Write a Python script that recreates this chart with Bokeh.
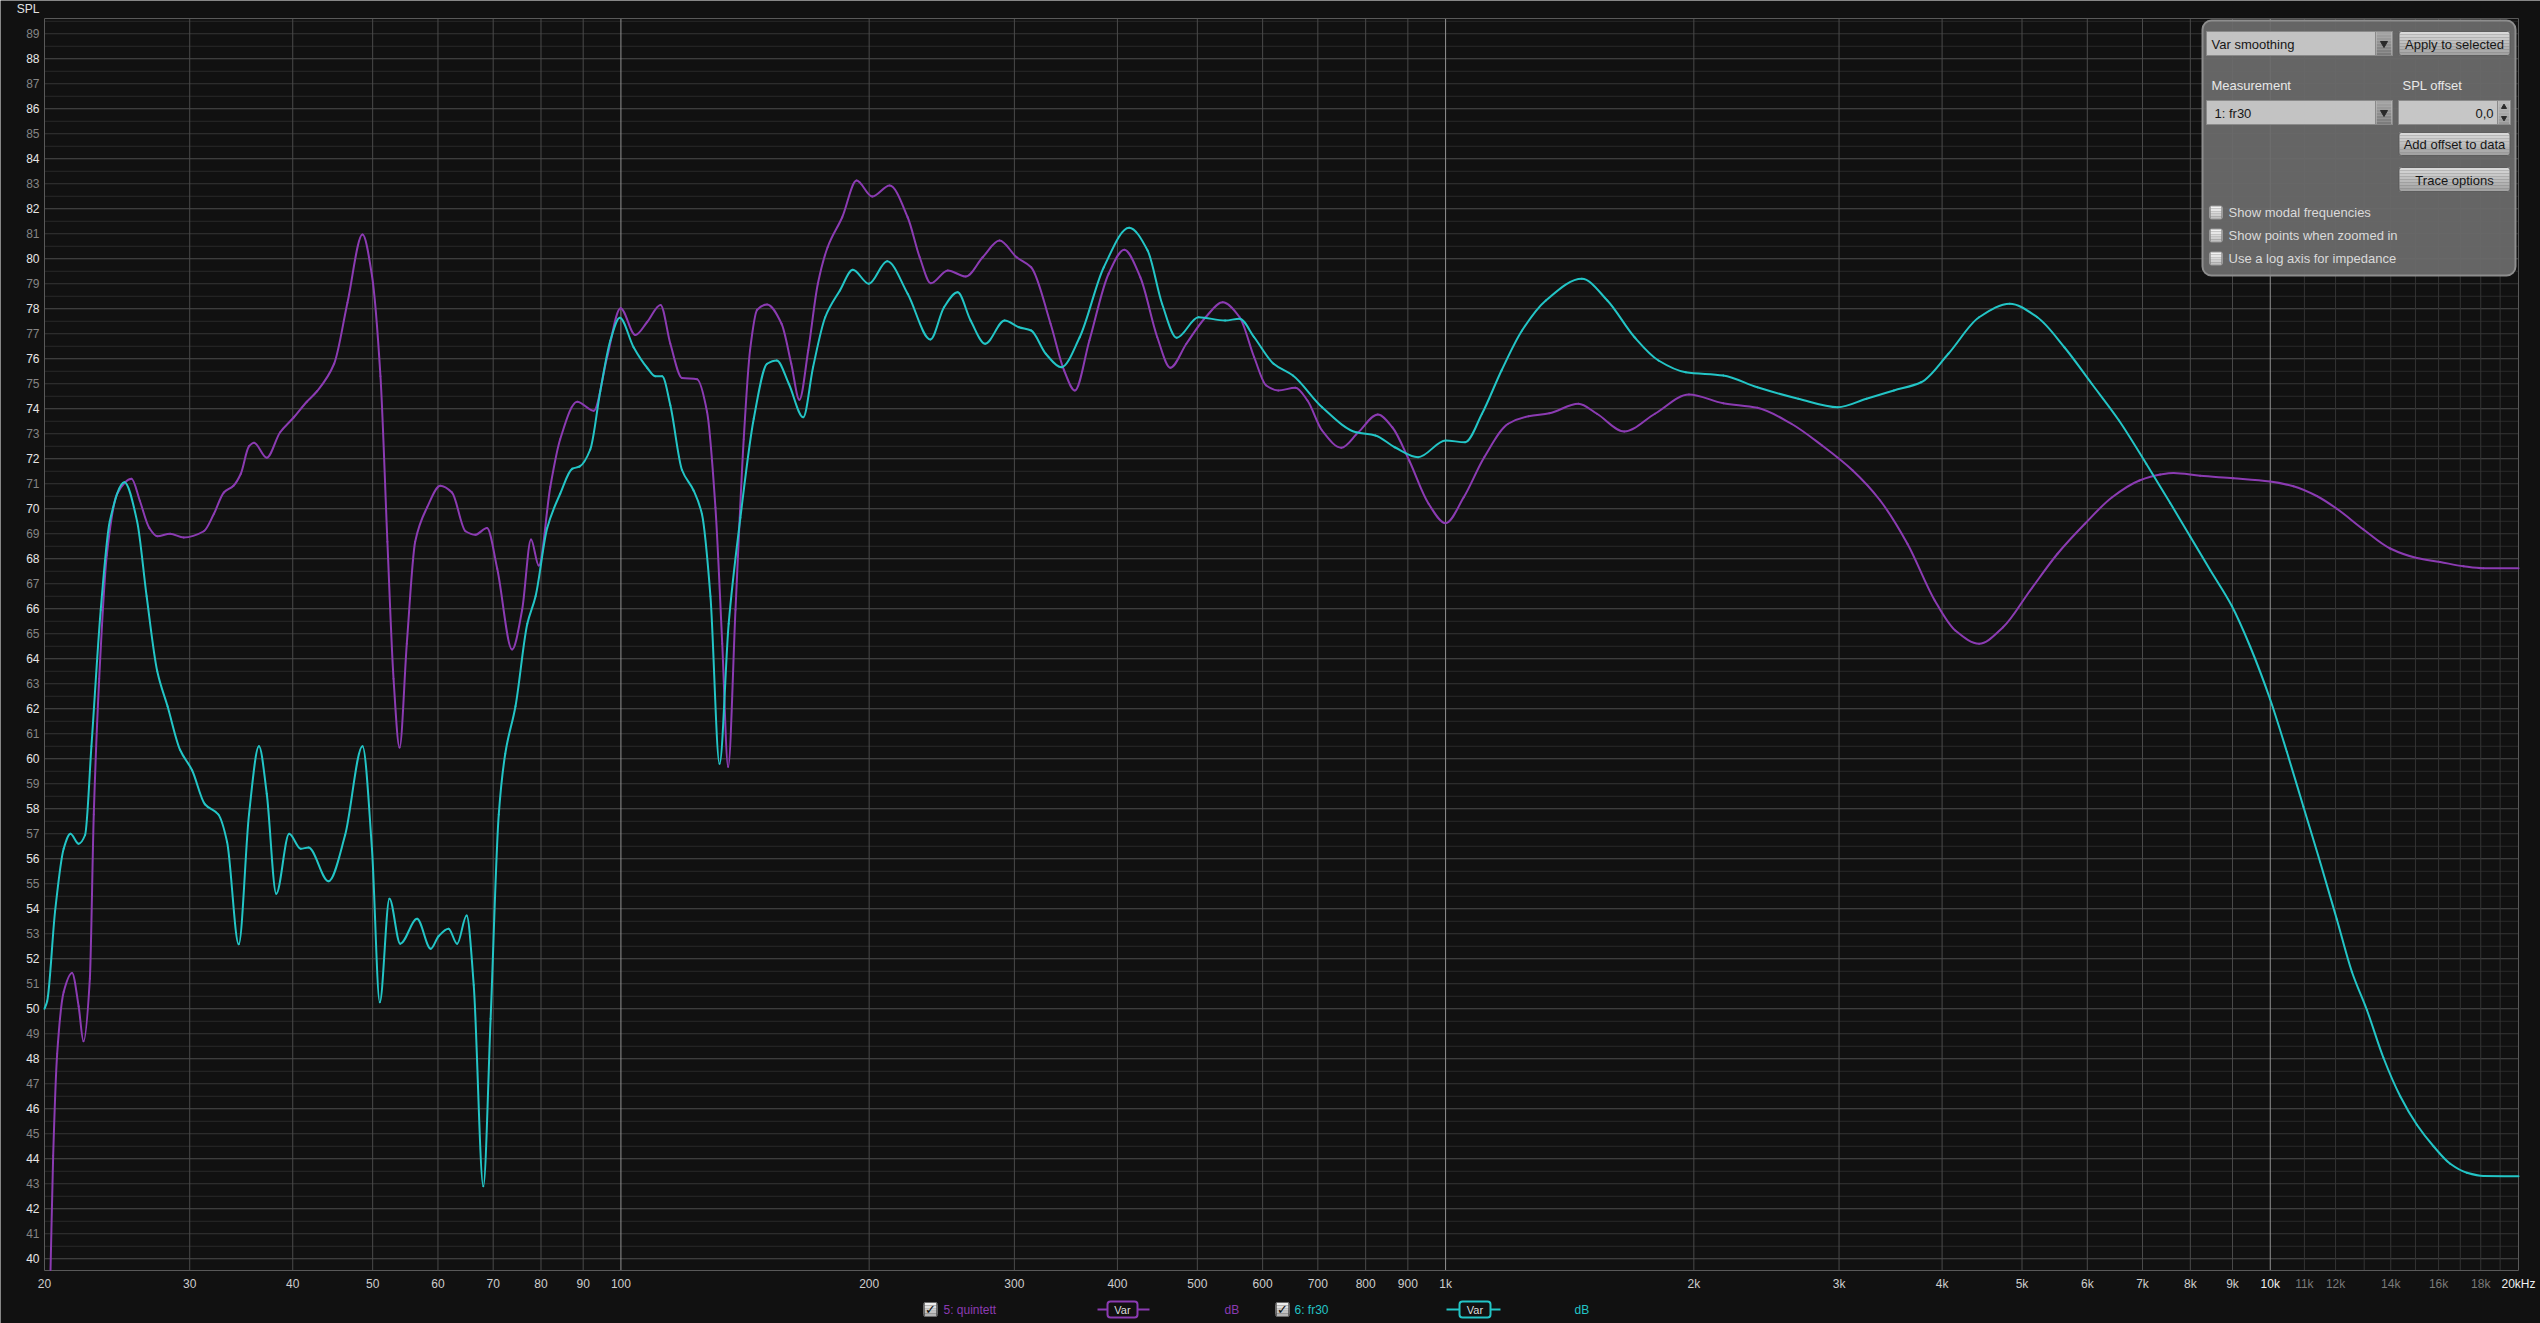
import math
from bokeh.plotting import figure
from bokeh.models import Range1d, LinearScale
from bokeh.core.properties import value
from bokeh.embed import file_html
from bokeh.resources import INLINE

# ---------------- data ----------------
fr30_freq = [20.0, 20.15, 20.6, 21.1, 21.5, 22.0, 22.4, 22.8, 23.4, 24.0,
             25.0, 25.9, 26.6, 27.4, 28.2, 29.2, 30.2, 31.3, 32.5, 33.3,
             34.4, 35.4, 36.4, 37.2, 38.2, 39.6, 40.9, 41.8, 44.2, 46.3,
             48.6, 49.9, 51.0, 52.4, 54.0, 56.6, 58.8, 60.1, 61.8, 63.3,
             65.0, 66.3, 68.1, 69.5, 71.1, 72.4, 74.5, 77.0, 78.8, 81.4,
             84.4, 87.3, 89.1, 91.8, 94.4, 97.1, 99.7, 103.6, 107.6, 110.1,
             112.2, 114.8, 118.6, 122.5, 125.4, 128.4, 131.7, 135.1, 139.6, 144.9,
             150.4, 154.5, 159.8, 166.4, 171.0, 176.9, 184.3, 191.1, 199.8, 210.3,
             222.7, 237.3, 246.5, 256.0, 265.5, 276.5, 291.9, 303.9, 314.4, 327.5,
             342.0, 360.0, 385.1, 413.3, 435.2, 453.1, 472.0, 501.6, 540.3, 562.7,
             586.0, 618.6, 653.0, 708.4, 778.6, 821.9, 867.6, 926.1, 1000, 1056,
             1107, 1169, 1238, 1323, 1463, 1571, 1695, 1812, 1955, 2171,
             2388, 2677, 2990, 3239, 3496, 3773, 4071, 4436, 4832, 5218,
             5628, 6075, 6555, 7074, 7563, 7997, 8456, 8983, 9454, 9996,
             10474, 10970, 11492, 12042, 12560, 13098, 13720, 14376, 15060, 15774,
             16528, 17316, 18138, 20000]
fr30_spl = [50.0, 50.3, 53.9, 56.4, 57.0, 56.6, 56.95, 60.5, 65.95, 69.5,
            71.06, 69.5, 66.5, 63.5, 62.1, 60.36, 59.54, 58.18, 57.77, 56.67,
            52.58, 57.77, 60.5, 58.6, 54.6, 57.0, 56.4, 56.45, 55.1, 56.95,
            60.5, 56.4, 50.26, 54.4, 52.6, 53.6, 52.4, 52.9, 53.2, 52.6,
            53.73, 50.95, 42.9, 49.6, 57.77, 60.2, 62.1, 65.4, 66.5, 69.23,
            70.6, 71.6, 71.69, 72.37, 74.7, 76.73, 77.64, 76.46, 75.64, 75.3,
            75.3, 74.14, 71.55, 70.73, 69.78, 66.5, 59.8, 65.4, 69.64, 73.6,
            75.8, 75.93, 75.0, 73.66, 75.66, 77.66, 78.73, 79.56, 79.0, 79.9,
            78.6, 76.77, 78.06, 78.66, 77.53, 76.6, 77.53, 77.26, 77.13, 76.2,
            75.66, 76.86, 79.66, 81.24, 80.33, 78.2, 76.84, 77.66, 77.53, 77.6,
            76.86, 75.8, 75.33, 74.06, 73.06, 72.93, 72.46, 72.06, 72.73, 72.66,
            73.8, 75.53, 77.13, 78.33, 79.2, 78.33, 76.86, 75.93, 75.46, 75.33,
            74.86, 74.4, 74.06, 74.4, 74.73, 75.06, 76.2, 77.66, 78.2, 77.66,
            76.46, 75.0, 73.53, 71.8, 70.23, 68.89, 67.55, 66.11, 64.49, 62.38,
            60.28, 58.08, 55.88, 53.58, 51.48, 49.95, 48.03, 46.5, 45.36, 44.5,
            43.8, 43.44, 43.31, 43.3]

quintett_freq = [20.34, 20.49, 20.72, 21.1, 21.6, 22.0, 22.3, 22.7, 22.95, 23.3,
                 23.8, 24.5, 25.5, 26.1, 26.8, 27.4, 28.4, 29.5, 31.2, 32.1,
                 33.0, 33.9, 34.6, 35.4, 35.9, 37.2, 38.6, 40.1, 41.6, 42.8,
                 44.9, 46.6, 48.6, 49.9, 51.1, 52.1, 53.0, 53.9, 55.0, 56.3,
                 58.2, 60.4, 62.4, 64.8, 66.6, 68.8, 70.8, 73.8, 75.9, 77.8,
                 79.5, 82.1, 84.4, 88.5, 92.7, 96.2, 99.9, 104.1, 107.6, 111.7,
                 114.8, 118.6, 123.7, 127.2, 130.2, 132.7, 134.9, 137.7, 140.9, 143.4,
                 146.3, 150.4, 156.6, 160.9, 164.6, 168.7, 173.3, 178.1, 185.5, 193.1,
                 201.7, 211.8, 222.7, 230.3, 237.6, 249.1, 261.9, 274.6, 287.8, 301.9,
                 314.4, 331.9, 344.7, 355.2, 369.9, 390.3, 407.7, 426.4, 447.1, 463.7,
                 484.9, 511.7, 536.7, 562.7, 586.0, 606.1, 626.8, 657.4, 680.0, 708.4,
                 747.4, 783.7, 827.5, 861.8, 903.4, 953.7, 1000, 1052, 1114, 1191,
                 1261, 1336, 1449, 1526, 1647, 1794, 1973, 2171, 2388, 2626,
                 2861, 3117, 3365, 3631, 3919, 4150, 4436, 4742, 5115, 5521,
                 5960, 6431, 6940, 7355, 7632, 8223, 9022, 9996, 10668, 11386,
                 12042, 12972, 13976, 15060, 16070, 17152, 18138, 20000]
quintett_spl = [39.55, 44.12, 48.2, 50.67, 51.43, 50.1, 48.7, 51.2, 57.77, 63.2,
                68.14, 70.6, 71.2, 70.32, 69.23, 68.9, 69.0, 68.85, 69.1, 69.8,
                70.65, 70.92, 71.4, 72.5, 72.64, 72.04, 73.05, 73.65, 74.28, 74.7,
                75.8, 78.24, 80.97, 79.33, 75.3, 68.68, 63.2, 60.45, 64.6, 68.68,
                70.05, 70.92, 70.65, 69.1, 68.96, 69.23, 67.6, 64.37, 65.96, 68.77,
                67.73, 70.87, 72.78, 74.28, 73.92, 76.05, 78.02, 76.95, 77.47, 78.15,
                76.6, 75.23, 75.18, 73.87, 70.05, 64.6, 59.68, 65.96, 72.78, 76.33,
                77.96, 78.17, 77.4, 75.8, 74.36, 76.33, 79.0, 80.46, 81.66, 83.13,
                82.49, 82.93, 81.66, 80.06, 79.02, 79.53, 79.29, 80.06, 80.73, 80.06,
                79.66, 77.4, 75.53, 74.73, 76.73, 79.4, 80.36, 79.26, 76.86, 75.64,
                76.6, 77.66, 78.26, 77.66, 76.06, 74.93, 74.73, 74.84, 74.33, 73.13,
                72.44, 73.06, 73.77, 73.26, 71.93, 70.2, 69.42, 70.46, 72.06, 73.4,
                73.7, 73.82, 74.2, 73.8, 73.09, 73.8, 74.57, 74.22, 74.04, 73.4,
                72.53, 71.53, 70.33, 68.6, 66.33, 65.13, 64.6, 65.26, 66.73, 68.2,
                69.4, 70.46, 71.13, 71.37, 71.43, 71.32, 71.22, 71.09, 70.9, 70.51,
                70.0, 69.17, 68.41, 68.03, 67.87, 67.7, 67.62, 67.62]

x_tick_values = [20, 30, 40, 50, 60, 70, 80, 90, 100, 200, 300, 400, 500, 600, 700, 800, 900,
                 1000, 2000, 3000, 4000, 5000, 6000, 7000, 8000, 9000, 10000,
                 11000, 12000, 14000, 16000, 18000, 20000]
x_tick_labels = ["20", "30", "40", "50", "60", "70", "80", "90", "100", "200", "300", "400",
                 "500", "600", "700", "800", "900", "1k", "2k", "3k", "4k", "5k", "6k", "7k",
                 "8k", "9k", "10k", "11k", "12k", "14k", "16k", "18k", "20kHz"]
x_minor_grid = [13000, 15000, 17000, 19000]
y_tick_values = list(range(40, 90))
y_tick_labels = [str(v) for v in y_tick_values]

assert len(fr30_freq) == len(fr30_spl)
assert len(quintett_freq) == len(quintett_spl)

# ---------------- geometry / style ----------------
F_MIN, F_MAX = 20, 20000
DB_MIN, DB_MAX = 39.53, 89.61          # visible SPL window of the graph
PURPLE = "#8b3bb2"
CYAN = "#23c5c6"
FONT = "Liberation Sans"
BG = "#111111"

W, H = 2540, 1323
OX, OY = 0, 0                            # figure origin on the page
PLOT_L, PLOT_R, PLOT_T, PLOT_B = 44, 2518, 18, 1270   # graph box in page pixels

decade_px = (PLOT_R - PLOT_L) / 3.0
x_start = F_MIN / 10 ** ((PLOT_L - OX) / decade_px)
x_end = F_MAX * 10 ** ((OX + W - PLOT_R) / decade_px)
db_per_px = (DB_MAX - DB_MIN) / (PLOT_B - PLOT_T)
y_end = DB_MAX + (PLOT_T - OY) * db_per_px
y_start = DB_MIN - (OY + H - PLOT_B) * db_per_px

p = figure(width=W, height=H, x_axis_type="log",
           x_range=Range1d(x_start, x_end), y_range=Range1d(y_start, y_end),
           x_axis_location=None, y_axis_location=None,
           toolbar_location=None, output_backend="svg",
           background_fill_color=BG, border_fill_color=BG,
           outline_line_color=None, min_border=0)
p.min_border_left = p.min_border_right = p.min_border_top = p.min_border_bottom = 0
p.grid.visible = False

# page-pixel coordinate system for the UI chrome
p.extra_x_ranges = {"px": Range1d(OX, OX + W)}
p.extra_y_ranges = {"px": Range1d(OY + H, OY)}
p.extra_x_scales = {"px": LinearScale()}
p.extra_y_scales = {"px": LinearScale()}
PX = dict(x_range_name="px", y_range_name="px")

# ---------------- grid ----------------
h_vals = [v / 2 for v in range(int(40 * 2), int(89.5 * 2) + 1)]
h_cols = []
for v in h_vals:
    if v != int(v):
        h_cols.append("#2a2a2a")
    elif int(v) % 2 == 0:
        h_cols.append("#4c4c4c")
    else:
        h_cols.append("#363636")
p.segment(x0=[F_MIN] * len(h_vals), x1=[F_MAX] * len(h_vals), y0=h_vals, y1=h_vals,
          line_color=h_cols, line_width=1)

v_vals = x_tick_values[1:-1] + x_minor_grid
v_cols = []
for v in v_vals:
    if v in (100, 1000, 10000):
        v_cols.append("#929292")
    elif v > 10000:
        v_cols.append("#343434")
    else:
        v_cols.append("#4a4a4a")
p.segment(x0=v_vals, x1=v_vals, y0=[DB_MIN] * len(v_vals), y1=[DB_MAX] * len(v_vals),
          line_color=v_cols, line_width=1)

p.quad(left=[F_MIN], right=[F_MAX], bottom=[DB_MIN], top=[DB_MAX],
       fill_color=None, line_color="#595959", line_width=1)


# ---------------- curves (smooth, monotone cubic through the read points) ----------------
def smooth_curve(freqs, spls, color):
    u = [math.log10(f) for f in freqs]
    n = len(u)
    h = [u[k + 1] - u[k] for k in range(n - 1)]
    d = [(spls[k + 1] - spls[k]) / h[k] for k in range(n - 1)]
    m = [0.0] * n
    m[0], m[-1] = d[0], d[-1]
    for k in range(1, n - 1):
        if d[k - 1] * d[k] <= 0:
            m[k] = 0.0
        else:
            w1 = 2 * h[k] + h[k - 1]
            w2 = h[k] + 2 * h[k - 1]
            m[k] = (w1 + w2) / (w1 / d[k - 1] + w2 / d[k])
    x0 = freqs[:-1]
    x1 = freqs[1:]
    y0 = spls[:-1]
    y1 = spls[1:]
    cx0 = [10 ** (u[k] + h[k] / 3) for k in range(n - 1)]
    cx1 = [10 ** (u[k + 1] - h[k] / 3) for k in range(n - 1)]
    cy0 = [spls[k] + m[k] * h[k] / 3 for k in range(n - 1)]
    cy1 = [spls[k + 1] - m[k + 1] * h[k] / 3 for k in range(n - 1)]
    p.bezier(x0=x0, y0=y0, x1=x1, y1=y1, cx0=cx0, cy0=cy0, cx1=cx1, cy1=cy1,
             line_color=color, line_width=2, line_cap="round", line_join="round")


smooth_curve(quintett_freq, quintett_spl, PURPLE)
smooth_curve(fr30_freq, fr30_spl, CYAN)

# ---------------- tick labels ----------------
y_cols = ["#e6e6e6" if v % 2 == 0 else "#858585" for v in y_tick_values]
p.text(x=[PLOT_L - 5] * len(y_tick_values), y=y_tick_values, text=y_tick_labels,
       x_range_name="px", text_align="right", text_baseline="middle",
       text_font=value(FONT), text_font_size="12px", text_color=y_cols)

x_cols = []
for v in x_tick_values:
    if v in (10000, 20000):
        x_cols.append("#f0f0f0")
    elif 10000 < v < 20000:
        x_cols.append("#7a7a7a")
    else:
        x_cols.append("#cecece")
p.text(x=x_tick_values, y=[1283] * len(x_tick_values), text=x_tick_labels,
       y_range_name="px", text_align="center", text_baseline="middle",
       text_font=value(FONT), text_font_size="12px", text_color=x_cols)


def label(x, y, s, color, size="13px", align="left", font=FONT, style="normal"):
    p.text(x=[x], y=[y], text=[s], text_color=color, text_font=value(font),
           text_font_size=size, text_align=align, text_baseline="middle",
           text_font_style=style, **PX)


def box(l, r, t, b, fill, line=None, radius=0, alpha=1.0, lw=1):
    p.quad(left=[l], right=[r], top=[t], bottom=[b], fill_color=fill, fill_alpha=alpha,
           line_color=line, line_width=lw, border_radius=int(radius), **PX)


def mix(c1, c2, f):
    a = [int(c1[i:i + 2], 16) for i in (1, 3, 5)]
    b = [int(c2[i:i + 2], 16) for i in (1, 3, 5)]
    return "#%02x%02x%02x" % tuple(int(round(a[k] + (b[k] - a[k]) * f)) for k in range(3))


def gradient_box(l, r, t, b, c_top, c_bot, line, radius=3, n=8):
    hh = (b - t) / n
    tops = [t + i * hh for i in range(n)]
    bots = [t + (i + 1) * hh for i in range(n)]
    cols = [mix(c_top, c_bot, i / (n - 1)) for i in range(n)]
    p.quad(left=[l + 1] * n, right=[r - 1] * n, top=tops, bottom=bots,
           fill_color=cols, line_color=None, **PX)
    box(l, r, t, b, None, line=line, radius=radius)


label(39, 8, "SPL", "#e2e2e2", size="12px", align="right")

# ---------------- control panel ----------------
box(2202, 2515, 20, 275, "#6c6c6c", line="#8e8e8e", radius=9, alpha=0.93, lw=2)

# smoothing dropdown + apply
box(2206, 2392, 31, 55, "#c3c3c3", line="#8a8a8a")
gradient_box(2375, 2392, 31, 55, "#a4a4a4", "#7c7c7c", "#8a8a8a", radius=0)
p.scatter(x=[2383.5], y=[43], marker="inverted_triangle", size=7, color="#2a2a2a", **PX)
label(2211, 43.5, "Var smoothing", "#161616")
gradient_box(2398, 2510, 31, 55, "#d8d8d8", "#a3a3a3", "#5e5e5e")
label(2454, 43.5, "Apply to selected", "#161616", align="center")

label(2211, 85, "Measurement", "#e8e8e8")
label(2402, 85, "SPL offset", "#e8e8e8")

box(2206, 2392, 100, 124, "#c3c3c3", line="#8a8a8a")
gradient_box(2375, 2392, 100, 124, "#a4a4a4", "#7c7c7c", "#8a8a8a", radius=0)
p.scatter(x=[2383.5], y=[112], marker="inverted_triangle", size=7, color="#2a2a2a", **PX)
label(2214, 112.5, "1: fr30", "#161616")

box(2398, 2510, 100, 124, "#c6c6c6", line="#8a8a8a")
gradient_box(2497, 2510, 100, 124, "#b8b8b8", "#9a9a9a", "#8a8a8a", radius=0)
p.scatter(x=[2503.5], y=[106.5], marker="triangle", size=5, color="#2a2a2a", **PX)
p.scatter(x=[2503.5], y=[117.5], marker="inverted_triangle", size=5, color="#2a2a2a", **PX)
label(2493, 112.5, "0,0", "#161616", align="right")

gradient_box(2398, 2510, 132, 155, "#d8d8d8", "#a3a3a3", "#5e5e5e")
label(2454, 144, "Add offset to data", "#161616", align="center")
gradient_box(2398, 2510, 167, 191, "#d8d8d8", "#a3a3a3", "#5e5e5e")
label(2454, 179.5, "Trace options", "#161616", align="center")

for yc, txt in ((212, "Show modal frequencies"), (235, "Show points when zoomed in"),
                (258, "Use a log axis for impedance")):
    gradient_box(2209, 2222, yc - 6.5, yc + 6.5, "#f2f2f2", "#c2c2c2", "#9a9a9a", radius=2, n=5)
    label(2228, yc, txt, "#dadada")

# ---------------- bottom legend ----------------
LY = 1309


def legend_entry(cb_l, name_x, name, color, line_l, line_r, var_l, var_r, db_x):
    gradient_box(cb_l, cb_l + 14, LY - 7, LY + 7, "#ececec", "#b4b4b4", "#6a6a6a", radius=2, n=5)
    label(cb_l + 7, LY, "\u2713", "#0c0c0c", size="13px", align="center", font="DejaVu Sans",
          style="bold")
    label(name_x, LY, name, color, size="12px")
    p.segment(x0=[line_l], x1=[line_r], y0=[LY], y1=[LY], line_color=color, line_width=2, **PX)
    box(var_l, var_r, LY - 8, LY + 8, BG, line=color, radius=3, lw=2)
    label((var_l + var_r) / 2, LY, "Var", "#dcdcdc", size="11px", align="center")
    label(db_x, LY, "dB", color, size="12px")


legend_entry(923, 943, "5: quintett", PURPLE, 1097, 1149, 1107, 1137, 1224)
legend_entry(1275, 1294, "6: fr30", CYAN, 1446, 1500, 1459, 1490, 1574)

open("out.html", "w").write(file_html(p, INLINE))
